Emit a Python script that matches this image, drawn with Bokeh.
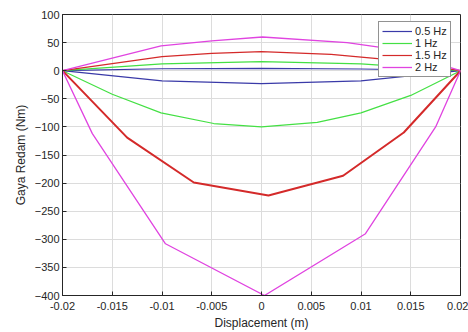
from bokeh.plotting import figure
from bokeh.models import FixedTicker, LinearAxis, Legend, LegendItem, Range1d
from bokeh.embed import file_html
from bokeh.resources import INLINE

# 0.5 Hz
x05_low = [-0.02, -0.01, 0.0, 0.01, 0.02]
y05_low = [0, -18, -23, -18, 0]
x05_up = [0.02, 0.01, 0.0, -0.01, -0.02]
y05_up = [0, 3, 4, 3.5, 0]

# 1 Hz
x1_low = [-0.02, -0.015, -0.0101, -0.0048, 0.0, 0.0056, 0.010, 0.015, 0.02]
y1_low = [0, -42, -75, -94, -100, -92, -75, -44, 0]
x1_up = [0.02, 0.01, 0.0, -0.01, -0.02]
y1_up = [0, 12, 16, 12, 0]

# 1.5 Hz
x15_low = [-0.02, -0.0135, -0.0068, 0.0007, 0.0082, 0.0143, 0.02]
y15_low = [0, -119, -199, -222, -187, -110, 0]
x15_up = [0.02, 0.0125, 0.007, 0.0, -0.005, -0.01, -0.02]
y15_up = [0, 20, 29, 34, 31, 25, 0]

# 2 Hz
x2_low = [-0.02, -0.017, -0.00965, 0.0003, 0.01045, 0.0175, 0.02]
y2_low = [0, -112, -308, -400, -290, -100, 0]
x2_up = [0.02, 0.0125, 0.0086, 0.0001, -0.005, -0.0101, -0.02]
y2_up = [0, 40, 50, 60, 53, 44, 0]

labels = ["0.5 Hz", "1 Hz", "1.5 Hz", "2 Hz"]
colors = ["#3a3aa8", "#44e044", "#d42a2a", "#e044e0"]
low_widths = [1.2, 1.2, 2.0, 1.3]
up_widths = [1.2, 1.2, 1.2, 1.3]

x_ticks = [-0.02, -0.015, -0.01, -0.005, 0.0, 0.005, 0.01, 0.015, 0.02]
x_tick_labels = ["-0.02", "-0.015", "-0.01", "-0.005", "0", "0.005", "0.01", "0.015", "0.02"]
y_ticks = [-400, -350, -300, -250, -200, -150, -100, -50, 0, 50, 100]

FONT = "Liberation Sans"

p = figure(width=468, height=332, output_backend="svg", toolbar_location=None,
           x_range=Range1d(-0.02, 0.02), y_range=Range1d(-400, 100),
           min_border_left=62, min_border_right=8, min_border_top=14, min_border_bottom=37)
p.background_fill_color = "white"
p.border_fill_color = "white"
p.outline_line_color = "#262626"
p.outline_line_width = 1

for ax in [p.xaxis[0], p.yaxis[0]]:
    ax.major_tick_in = 4
    ax.major_tick_out = 0
    ax.minor_tick_line_color = None
    ax.axis_line_color = "#262626"
    ax.major_tick_line_color = "#262626"
    ax.major_label_text_font = FONT
    ax.major_label_text_font_size = "11px"
    ax.major_label_text_color = "#262626"
    ax.axis_label_text_font = FONT
    ax.axis_label_text_font_size = "12px"
    ax.axis_label_text_font_style = "normal"
    ax.axis_label_text_color = "#262626"

p.xaxis.ticker = FixedTicker(ticks=x_ticks)
p.xaxis.major_label_overrides = {t: l for t, l in zip(x_ticks, x_tick_labels)}
p.yaxis.ticker = FixedTicker(ticks=y_ticks)
p.xaxis.axis_label = "Displacement (m)"
p.yaxis.axis_label = "Gaya Redam (Nm)"
p.xaxis.major_label_standoff = 6
p.yaxis.major_label_standoff = 3
p.xaxis.axis_label_standoff = 3
p.yaxis.axis_label_standoff = 4

p.xgrid.ticker = FixedTicker(ticks=x_ticks)
p.ygrid.ticker = FixedTicker(ticks=y_ticks)
p.xgrid.grid_line_color = "#dcdcdc"
p.ygrid.grid_line_color = "#dcdcdc"

series = [
    (x05_low, y05_low, x05_up, y05_up),
    (x1_low, y1_low, x1_up, y1_up),
    (x15_low, y15_low, x15_up, y15_up),
    (x2_low, y2_low, x2_up, y2_up),
]
items = []
for (xl, yl, xu, yu), lab, c, wl, wu in zip(series, labels, colors, low_widths, up_widths):
    ru = p.line(xu, yu, line_color=c, line_width=wu)
    rl = p.line(xl, yl, line_color=c, line_width=wl)
    items.append(LegendItem(label=lab, renderers=[ru]))

legend = Legend(items=items, location=(316, 218))
legend.label_text_font = FONT
legend.label_text_font_size = "11px"
legend.label_text_color = "#262626"
legend.label_height = 12
legend.glyph_height = 12
legend.glyph_width = 30
legend.spacing = 0
legend.padding = 3
legend.margin = 0
legend.label_standoff = 3
legend.border_line_color = "#262626"
legend.border_line_width = 1
legend.background_fill_alpha = 1
p.add_layout(legend)

html = file_html(p, INLINE)
open("out.html", "w").write(html)
